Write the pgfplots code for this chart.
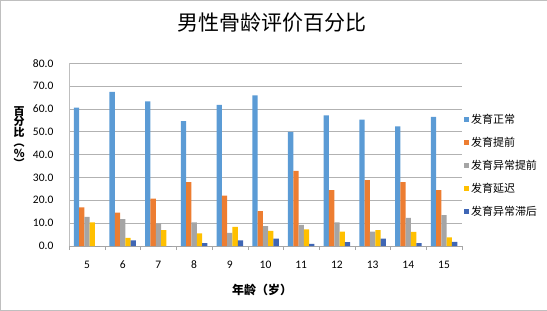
\documentclass[border=0pt]{standalone}
\usepackage{fontspec}
\setmainfont{Carlito}
\newfontfamily\cjk{Noto Sans CJK SC}
\usepackage{pgfplots}
\pgfplotsset{compat=1.18}
\definecolor{c1}{HTML}{5B9BD5}
\definecolor{c2}{HTML}{ED7D31}
\definecolor{c3}{HTML}{A5A5A5}
\definecolor{c4}{HTML}{FFC000}
\definecolor{c5}{HTML}{3F66B5}
\begin{document}
\begin{tikzpicture}[x=1pt,y=1pt]
\draw[gray!50] (0,0) rectangle (547,310);
\begin{axis}[
  at={(69pt,64pt)}, anchor=south west,
  scale only axis, width=393pt, height=183pt,
  ybar=0pt, bar width=5.3pt,
  xmin=-0.5, xmax=10.5, ymin=0, ymax=80,
  xtick={0,...,10},
  xticklabels={5,6,7,8,9,10,11,12,13,14,15},
  minor xtick={-0.5,0.5,...,10.5},
  major x tick style={draw=none},
  minor x tick style={draw=gray!70},
  minor tick length=4pt,
  tick align=outside,
  ytick={0,10,...,80},
  major y tick style={draw=none},
  ymajorgrids, grid style={gray!60, line width=0.7pt},
  axis x line*=bottom, axis y line*=left,
  axis line style={gray!70, line width=0.7pt},
  y axis line style={gray!50},
  /pgf/number format/assume math mode=true,
  yticklabel style={/pgf/number format/fixed, /pgf/number format/fixed zerofill, /pgf/number format/precision=1, xshift=-8pt},
  ticklabel style={font=\fontsize{11.5}{12}\selectfont},
  xticklabel style={yshift=-7pt},
  legend style={at={(1.005,0.735)}, anchor=north west, draw=none, fill=none,
    font=\cjk\fontsize{11}{12}\selectfont, row sep=8.2pt, inner sep=0pt},
  legend cell align=left,
  legend image code/.code={\fill[#1] (0pt,-2.5pt) rectangle (5pt,2.5pt);},
]
\addplot[fill=c1, draw=none] coordinates {(0,60.6) (1,67.4) (2,63.3) (3,54.6) (4,61.7) (5,65.9) (6,49.9) (7,57.2) (8,55.3) (9,52.3) (10,56.5)};
\addplot[fill=c2, draw=none] coordinates {(0,16.9) (1,14.6) (2,20.7) (3,27.9) (4,22.0) (5,15.3) (6,32.9) (7,24.5) (8,28.8) (9,28.0) (10,24.5)};
\addplot[fill=c3, draw=none] coordinates {(0,12.7) (1,11.8) (2,9.9) (3,10.3) (4,5.7) (5,8.7) (6,9.3) (7,10.3) (8,6.3) (9,12.3) (10,13.5)};
\addplot[fill=c4, draw=none] coordinates {(0,10.3) (1,3.6) (2,7.0) (3,5.5) (4,8.4) (5,6.6) (6,7.3) (7,6.3) (8,7.0) (9,6.2) (10,3.8)};
\addplot[fill=c5, draw=none] coordinates {(0,0) (1,2.5) (2,0) (3,1.3) (4,2.5) (5,3.2) (6,0.9) (7,1.7) (8,3.2) (9,1.3) (10,1.8)};
\legend{发育正常,发育提前,发育异常提前,发育延迟,发育异常滞后}
\end{axis}
\node at (272,288) {\cjk\fontsize{21}{22}\selectfont 男性骨龄评价百分比};
\node at (262,20) {\cjk\bfseries\fontsize{12}{13}\selectfont 年龄（岁）};
\node[align=center, font=\cjk\bfseries\fontsize{11}{10.5}\selectfont] at (19,173) {百\\分\\比\\︵\\\%\\︶};
\end{tikzpicture}
\end{document}
